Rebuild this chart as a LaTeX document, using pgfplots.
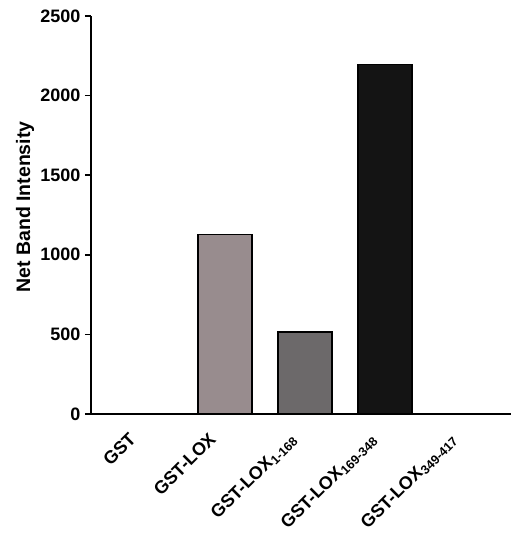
\documentclass[border=0pt]{standalone}
\usepackage{fontspec}
\setmainfont{Liberation Sans}
\usepackage{pgfplots}
\pgfplotsset{compat=1.18}
\definecolor{barA}{HTML}{988C8E}
\definecolor{barB}{HTML}{6C696A}
\definecolor{barC}{HTML}{141414}
\begin{document}
\begin{tikzpicture}
\useasboundingbox (-91pt,-132pt) rectangle (420pt,414pt);
\begin{axis}[
  at={(0pt,0pt)}, anchor=south west,
  scale only axis, width=420pt, height=398pt,
  xmin=-0.675, xmax=4.575, ymin=0, ymax=2500,
  axis lines*=left, axis line style={line width=1.6pt},
  ytick={0,500,1000,1500,2000,2500},
  major tick length=6pt,
  tick style={line width=1.6pt, black},
  ytick pos=left, tick align=outside,
  xtick={0,1,2,3,4}, x tick style={draw=none},
  xticklabels={GST, GST-LOX, GST-LOX\textsubscript{1-168}, GST-LOX\textsubscript{169-348}, GST-LOX\textsubscript{349-417}},
  /pgf/number format/assume math mode=true,
  /pgf/number format/1000 sep={},
  yticklabel style={font=\fontsize{18}{21}\selectfont\bfseries, xshift=-1pt},
  xticklabel style={font=\fontsize{18}{21}\selectfont\bfseries, xshift=-17pt, yshift=-10pt, rotate=45, anchor=north east, inner sep=1pt},
  ylabel={Net Band Intensity},
  ylabel style={font=\fontsize{19.5}{22}\selectfont\bfseries, at={(axis description cs:-0.157,0.52)}, anchor=center},
  ybar, bar width=54pt, bar shift=0pt,
  clip=false,
]
\addplot[draw=none, fill=none] coordinates {(0,0) (4,0)};
\addplot[draw=black, line width=1.2pt, fill=barA] coordinates {(1,1130)};
\addplot[draw=black, line width=1.2pt, fill=barB] coordinates {(2,515)};
\addplot[draw=black, line width=1.2pt, fill=barC] coordinates {(3,2195)};
\end{axis}
\end{tikzpicture}
\end{document}
